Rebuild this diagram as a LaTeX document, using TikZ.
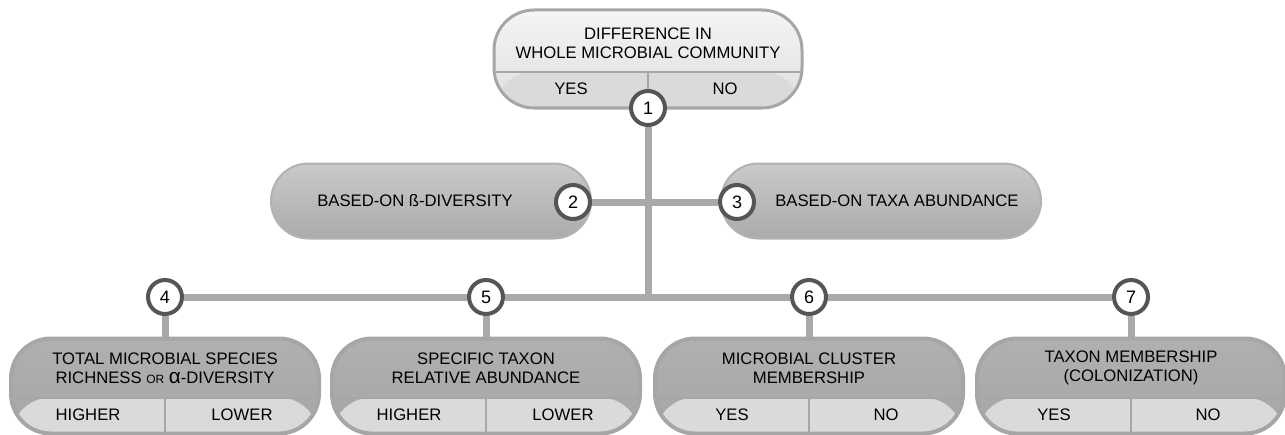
\documentclass[tikz,border=0pt]{standalone}
\usepackage{fontspec}
\setmainfont{Liberation Sans}

\definecolor{barfill}{HTML}{A9A9A9}
\definecolor{ringline}{HTML}{555555}
\definecolor{boxedge}{HTML}{A6A6A6}
\definecolor{strip}{HTML}{DADADA}

\begin{document}
\begin{tikzpicture}[x=0.75pt, y=-0.75pt,
    font=\fontsize{12.5}{14.5}\selectfont, text=black,
    bar/.style={draw=barfill, line width=5.25pt},
    numdot/.style={circle, draw=ringline, fill=white, line width=3pt,
      minimum size=25.5pt, inner sep=0pt, font=\fontsize{13.5}{13.5}\selectfont},
    % lower answer strip with its middle divider
    answers/.style={path picture={
        \fill[#1] ([yshift=27pt]path picture bounding box.south west)
          rectangle (path picture bounding box.south east);
        \draw[boxedge, line width=1.5pt]
          ([yshift=27pt]path picture bounding box.south west)
          -- ([yshift=27pt]path picture bounding box.south east)
          (path picture bounding box.south)
          -- ([yshift=27pt]path picture bounding box.south);}},
    topbox/.style={draw=boxedge, line width=2.25pt, rounded corners=30pt,
      minimum width=231pt, minimum height=73.5pt,
      top color=white!96!black, bottom color=white!87!black, answers=strip},
    midbox/.style={draw=black!30, line width=1.5pt, rounded corners=28pt,
      minimum width=240pt, minimum height=56.25pt,
      top color=black!21, bottom color=black!33},
    lowbox/.style={draw=boxedge, line width=3pt, rounded corners=30pt,
      minimum width=231pt, minimum height=71.25pt,
      top color=black!31, bottom color=black!35, answers=strip}]

  \useasboundingbox (0,0) rectangle (1285,435);

  % Whole community question
  \node[topbox] (top) at (648,59) {};
  \node[align=center] (toptxt) at (648,43)
    {DIFFERENCE IN\\WHOLE MICROBIAL COMMUNITY};
  \node (topyes) at (571,89) {YES};
  \node (topno) at (725,89) {NO};
  \node[numdot] (c1) at (648,108) {1};

  % Two ways of testing it
  \node[midbox] (b2) at (431,201) {};
  \node[midbox] (b3) at (881,201) {};
  \node (b2txt) at (415,201) {BASED-ON ß-DIVERSITY};
  \node (b3txt) at (897,201) {BASED-ON TAXA ABUNDANCE};
  \node[numdot] (c2) at (573,202) {2};
  \node[numdot] (c3) at (737,202) {3};

  % Trunk and branches
  \coordinate (join) at (648,297);
  \draw[bar] (c1) -- (join);
  \draw[bar] (c2) -- (c3);

  % Outcome boxes
  \foreach \n/\x/\txt/\lft/\rgt in {
      4/165/{TOTAL MICROBIAL SPECIES\\RICHNESS {\fontsize{9}{9}\selectfont OR}
        {\fontsize{15.5}{15}\selectfont α}-DIVERSITY}/HIGHER/LOWER,
      5/486/{SPECIFIC TAXON\\RELATIVE ABUNDANCE}/HIGHER/LOWER,
      6/809/{MICROBIAL CLUSTER\\MEMBERSHIP}/YES/NO,
      7/1131/{TAXON MEMBERSHIP\\(COLONIZATION)}/YES/NO} {
    \node[lowbox] (b\n) at (\x,386) {};
    \node[align=center] (t\n) at (\x,368) {\txt};
    \node (l\n) at (\x-77,415) {\lft};
    \node (r\n) at (\x+77,415) {\rgt};
    \node[numdot] (c\n) at (\x,297) {\n};
    \draw[bar] (c\n) -- (b\n);
  }
  \draw[bar] (c4) -- (c5) (c5) -- (c6) (c6) -- (c7);

\end{tikzpicture}
\end{document}
